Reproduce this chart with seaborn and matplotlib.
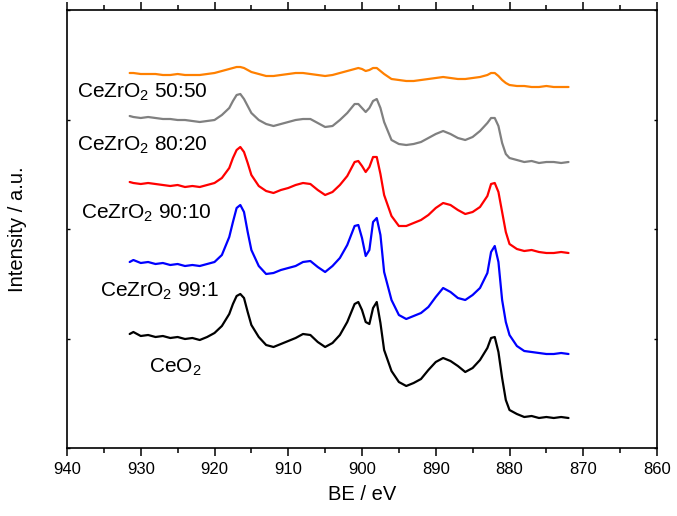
import numpy as np
import pandas as pd
import matplotlib
matplotlib.use("Agg")
import matplotlib.pyplot as plt
import seaborn as sns

# Binding energy grid (eV)
be = [931.5, 931, 930, 929, 928, 927, 926, 925, 924, 923, 922, 921, 920, 919, 918,
      917.5, 917, 916.5, 916, 915.5, 915, 914, 913, 912, 911, 910, 909, 908, 907,
      906, 905, 904, 903, 902, 901, 900.5, 900, 899.5, 899, 898.5, 898, 897.5, 897,
      896, 895, 894, 893, 892, 891, 890, 889, 888, 887, 886, 885, 884, 883, 882.5,
      882, 881.5, 881, 880.5, 880, 879, 878, 877, 876, 875, 874, 873, 872]

# Ce 3d intensities (a.u.), stacked with vertical offsets
ceo2 = [114, 116, 112, 113, 111, 112, 110, 111, 109, 110, 108, 111, 115, 122, 134,
        144, 152, 154, 150, 136, 123, 111, 103, 101, 104, 107, 110, 114, 113,
        106, 101, 105, 113, 126, 144, 146, 138, 126, 124, 140, 146, 125, 98,
        77, 66, 62, 65, 69, 78, 86, 90, 87, 82, 76, 80, 88, 100, 110,
        111, 96, 70, 48, 38, 34, 31, 32, 30, 31, 30, 31, 30]
cz_99_1 = [186, 188, 185, 186, 184, 185, 183, 184, 182, 183, 182, 184, 186, 193, 211,
           226, 240, 243, 236, 216, 198, 182, 174, 175, 178, 180, 182, 186, 187,
           181, 176, 182, 190, 203, 222, 223, 210, 192, 198, 226, 230, 213, 176,
           148, 133, 129, 132, 135, 141, 151, 160, 156, 150, 148, 153, 160, 175, 196,
           202, 186, 148, 126, 113, 102, 97, 96, 95, 94, 94, 95, 94]
cz_90_10 = [266, 265, 264, 265, 264, 263, 262, 263, 261, 262, 261, 263, 265, 270, 280,
            290, 298, 301, 296, 285, 273, 262, 257, 255, 258, 260, 263, 265, 264,
            258, 253, 256, 263, 272, 286, 287, 282, 276, 281, 291, 291, 274, 253,
            232, 222, 222, 225, 228, 233, 240, 245, 243, 238, 234, 236, 241, 252, 264,
            265, 256, 236, 216, 204, 199, 197, 198, 196, 195, 195, 196, 195]
cz_80_20 = [332, 331, 330, 331, 330, 329, 329, 328, 328, 327, 326, 327, 328, 333, 340,
            347, 353, 354, 349, 342, 335, 328, 324, 322, 324, 326, 328, 329, 329,
            325, 321, 322, 328, 335, 344, 344, 340, 336, 340, 347, 349, 340, 326,
            308, 304, 303, 304, 306, 310, 314, 317, 314, 310, 308, 311, 317, 325, 330,
            330, 322, 305, 294, 290, 288, 286, 287, 285, 286, 286, 285, 286]
cz_50_50 = [375, 375, 374, 374, 374, 373, 373, 374, 373, 373, 373, 374, 375, 377, 379,
            380, 381, 381, 380, 378, 376, 374, 372, 372, 373, 374, 375, 375, 374,
            373, 372, 373, 375, 377, 379, 380, 379, 377, 378, 380, 380, 377, 374,
            369, 368, 367, 367, 368, 369, 370, 371, 370, 369, 369, 370, 371, 373, 375,
            375, 372, 368, 365, 363, 362, 362, 361, 361, 362, 361, 361, 361]

names = ["CeO$_2$", "CeZrO$_2$ 99:1", "CeZrO$_2$ 90:10", "CeZrO$_2$ 80:20", "CeZrO$_2$ 50:50"]
series = [ceo2, cz_99_1, cz_90_10, cz_80_20, cz_50_50]
colors = ["#000000", "#0000FF", "#FF0000", "#808080", "#FF8000"]

# Label anchors (BE, intensity)
label_be = [928.9, 935.5, 938.1, 938.6, 938.6]
label_y = [81, 157, 235, 303, 356]

df = pd.concat(
    [pd.DataFrame({"BE": be, "Intensity": vals, "Sample": nm}) for nm, vals in zip(names, series)],
    ignore_index=True,
)

sns.set_theme(style="ticks")
plt.rcParams["font.family"] = ["Liberation Sans", "DejaVu Sans"]
plt.rcParams["mathtext.default"] = "regular"
plt.rcParams["text.color"] = "black"
plt.rcParams["axes.labelcolor"] = "black"
plt.rcParams["xtick.color"] = "black"
plt.rcParams["ytick.color"] = "black"

fig = plt.figure(figsize=(6.77, 5.16), dpi=100)
ax = fig.add_axes([67 / 677, 1 - 448 / 516, 590 / 677, 438 / 516])

sns.lineplot(data=df, x="BE", y="Intensity", hue="Sample", hue_order=names,
             palette=colors, linewidth=1.6, legend=False, ax=ax, sort=False)

for nm, bx, by in zip(names, label_be, label_y):
    ax.text(bx, by, nm, fontsize=15, ha="left", va="center", color="black")

ax.set_xlim(940, 860)
ax.set_ylim(0, 438)
ax.set_xticks(np.arange(940, 859, -10))
ax.set_xticks(np.arange(935, 860, -10), minor=True)
ax.set_yticks(np.arange(0, 439, 109.5))
ax.set_yticklabels([])

ax.set_xlabel("BE / eV", fontsize=14.5, labelpad=6)
ax.set_ylabel("Intensity / a.u.", fontsize=14.5)
ax.yaxis.set_label_coords(-0.068, 0.5)

for s in ax.spines.values():
    s.set_linewidth(1.2)
    s.set_color("black")

ax.tick_params(axis="x", which="major", direction="out", length=6, width=1.1,
               labelsize=12, top=True, pad=4)
ax.tick_params(axis="x", which="minor", direction="out", length=3.5, width=1.1, top=True)
ax.tick_params(axis="y", which="major", direction="in", length=2, width=1, left=True, right=True)

fig.savefig("out.png", dpi=100)
